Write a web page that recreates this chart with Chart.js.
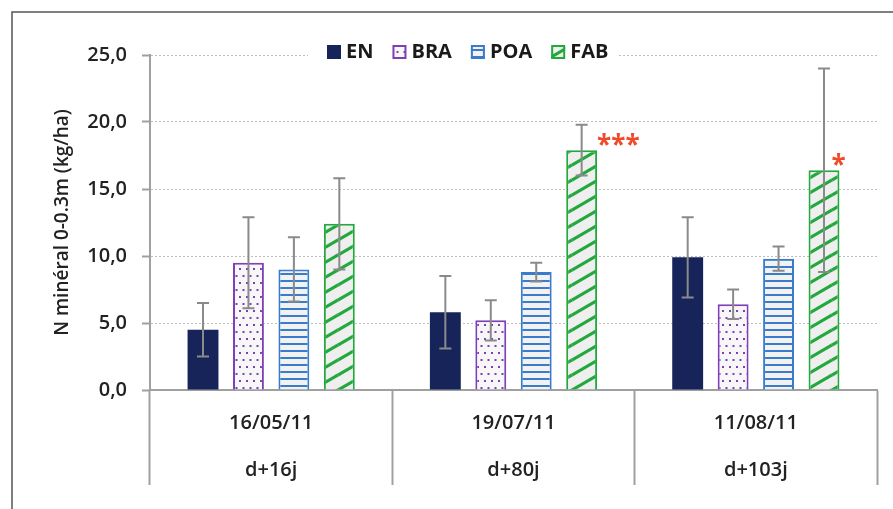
<!DOCTYPE html>
<html>
<head>
<meta charset="utf-8">
<script src="https://cdn.jsdelivr.net/npm/chart.js@4.4.0/dist/chart.umd.min.js"></script>
<style>
    html, body { margin: 0; padding: 0; background: #fff; }
</style>
</head>
<body>
<canvas id="grafico" width="893" height="509"></canvas>
<script>
let fechas = ['16/05/11', '19/07/11', '11/08/11'];
let dias = ['d+16j', 'd+80j', 'd+103j'];
let series = ['EN', 'BRA', 'POA', 'FAB'];
let valoresEN = [4.5, 5.8, 9.9];
let valoresBRA = [9.5, 5.2, 6.4];
let valoresPOA = [9.0, 8.8, 9.8];
let valoresFAB = [12.4, 17.9, 16.4];
let errorEN = [2.0, 2.7, 3.0];
let errorBRA = [3.4, 1.5, 1.1];
let errorPOA = [2.4, 0.7, 0.9];
let errorFAB = [3.4, 1.9, 7.6];
let signifFAB = ['', '***', '*'];
let ejeYMin = 0;
let ejeYMax = 25;
let ejeYPaso = 5;

let canvas = document.getElementById('grafico');
let ctxMain = canvas.getContext('2d');
let fuente = "'Open Sans', 'DejaVu Sans', sans-serif";

function patron(tipo, color) {
    let c = document.createElement('canvas');
    let g = c.getContext('2d');
    if (tipo == 'puntos') {
        c.width = 7; c.height = 14;
        g.fillStyle = '#f7f7f7';
        g.fillRect(0, 0, 7, 14);
        g.fillStyle = color;
        g.fillRect(1, 2, 2, 2);
        g.fillRect(4.5, 9, 2, 2);
    } else if (tipo == 'lineas') {
        c.width = 8; c.height = 7;
        g.fillStyle = '#f2f2f2';
        g.fillRect(0, 0, 8, 7);
        g.fillStyle = color;
        g.fillRect(0, 0, 8, 2);
    } else {
        c.width = 26; c.height = 15;
        g.fillStyle = '#efefef';
        g.fillRect(0, 0, 26, 15);
        g.strokeStyle = color;
        g.lineWidth = 3.2;
        for (let dx = -26; dx <= 26; dx += 26) {
            for (let dy = -15; dy <= 15; dy += 15) {
                g.beginPath();
                g.moveTo(dx, 15 + dy);
                g.lineTo(26 + dx, dy);
                g.stroke();
            }
        }
    }
    return ctxMain.createPattern(c, 'repeat');
}

let colorEN = '#16245a';
let colorBRA = '#7e3fb9';
let colorPOA = '#3a7ccc';
let colorFAB = '#22a83c';
let rellenos = [colorEN, patron('puntos', colorBRA), patron('lineas', colorPOA), patron('rayas', colorFAB)];
let bordes = [colorEN, colorBRA, colorPOA, colorFAB];
let valores = [valoresEN, valoresBRA, valoresPOA, valoresFAB];
let errores = [errorEN, errorBRA, errorPOA, errorFAB];

let datasets = [];
for (let i = 0; i < series.length; i++) {
    datasets.push({
        label: series[i],
        data: valores[i],
        backgroundColor: rellenos[i],
        borderColor: bordes[i],
        borderWidth: i == 0 ? 0 : 2,
        categoryPercentage: 0.75,
        barPercentage: 0.68
    });
}

// marco, barras de error, asteriscos y leyenda
let extras = {
    id: 'extras',
    beforeDraw: function (chart) {
        let c = chart.ctx;
        c.save();
        c.fillStyle = '#fff';
        c.fillRect(0, 0, chart.width, chart.height);
        c.strokeStyle = '#555';
        c.lineWidth = 1.5;
        c.beginPath();
        c.moveTo(12, chart.height);
        c.lineTo(12, 12);
        c.lineTo(chart.width, 12);
        c.stroke();
        c.restore();
    },
    afterDatasetsDraw: function (chart) {
        let c = chart.ctx;
        let y = chart.scales.y;
        c.save();
        c.strokeStyle = '#8a8a8a';
        c.lineWidth = 2;
        for (let d = 0; d < chart.data.datasets.length; d++) {
            let meta = chart.getDatasetMeta(d);
            for (let i = 0; i < meta.data.length; i++) {
                let bar = meta.data[i];
                let v = valores[d][i];
                let e = errores[d][i];
                let y1 = y.getPixelForValue(v + e);
                let y2 = y.getPixelForValue(v - e);
                c.beginPath();
                c.moveTo(bar.x, y1); c.lineTo(bar.x, y2);
                c.moveTo(bar.x - 6, y1); c.lineTo(bar.x + 6, y1);
                c.moveTo(bar.x - 6, y2); c.lineTo(bar.x + 6, y2);
                c.stroke();
            }
        }
        let metaFAB = chart.getDatasetMeta(3);
        c.fillStyle = '#f04a2a';
        c.font = 'bold 26px ' + fuente;
        c.textAlign = 'left';
        c.textBaseline = 'alphabetic';
        for (let i = 0; i < signifFAB.length; i++) {
            if (!signifFAB[i]) continue;
            let bar = metaFAB.data[i];
            let xr = bar.x + bar.width / 2 + (signifFAB[i].length > 1 ? 0 : -8);
            c.fillText(signifFAB[i], xr, bar.y + 4);
        }
        c.restore();
    },
    afterDraw: function (chart) {
        let c = chart.ctx;
        c.save();
        c.fillStyle = '#fff';
        c.fillRect(308, 42, 310, 20);
        c.font = 'bold 20px ' + fuente;
        c.textBaseline = 'middle';
        c.textAlign = 'left';
        let x = 327;
        let yc = 52;
        for (let i = 0; i < series.length; i++) {
            c.fillStyle = rellenos[i];
            c.fillRect(x, yc - 7, 14, 14);
            if (i > 0) {
                c.strokeStyle = bordes[i];
                c.lineWidth = 2;
                c.strokeRect(x + 1, yc - 6, 12, 12);
            }
            c.fillStyle = '#1a1a1a';
            c.fillText(series[i], x + 19, yc);
            x += 19 + c.measureText(series[i]).width + 19;
        }
        c.restore();
    }
};

let grafico = new Chart(canvas, {
    type: 'bar',
    data: {
        labels: fechas.map(function (f, i) { return [f, dias[i]]; }),
        datasets: datasets
    },
    options: {
        responsive: false,
        animation: false,
        layout: { padding: { left: 20, right: 16, top: 55, bottom: 0 } },
        plugins: {
            legend: { display: false },
            tooltip: { enabled: false }
        },
        scales: {
            x: {
                offset: true,
                grid: {
                    offset: true,
                    drawOnChartArea: false,
                    tickLength: 95,
                    tickColor: '#a0a0a0',
                    tickWidth: 2
                },
                border: { display: true, color: '#a0a0a0', width: 2 },
                ticks: {
                    color: '#222',
                    padding: -85,
                    font: { family: fuente, size: 20, weight: '600', lineHeight: 2.35 }
                },
                afterFit: function (s) { s.height = 119; }
            },
            y: {
                min: ejeYMin,
                max: ejeYMax,
                ticks: {
                    stepSize: ejeYPaso,
                    color: '#222',
                    padding: 15,
                    font: { family: fuente, size: 20, weight: '600' },
                    callback: function (v) { return v.toFixed(1).replace('.', ','); }
                },
                grid: {
                    color: '#bdbdbd',
                    lineWidth: 1,
                    tickLength: 8,
                    tickColor: '#a0a0a0',
                    tickWidth: 2
                },
                border: { display: true, color: '#a0a0a0', width: 2, dash: [2, 2] },
                title: {
                    display: true,
                    text: 'N minéral 0-0.3m (kg/ha)',
                    color: '#222',
                    padding: { top: 31, bottom: 0 },
                    font: { family: fuente, size: 19, weight: '600' }
                },
                afterFit: function (s) { s.width = 130; }
            }
        }
    },
    plugins: [extras]
});
</script>
</body>
</html>
